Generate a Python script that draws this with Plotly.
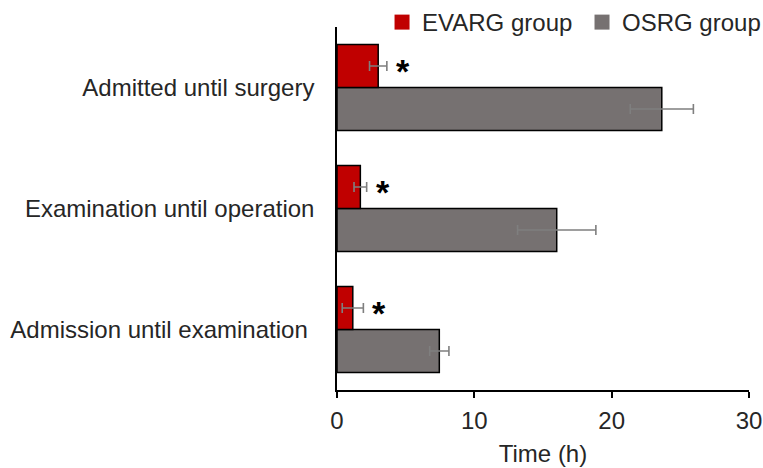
import plotly.graph_objects as go

# Intervals (hours), bottom to top on the chart
stages = ["Admission until examination", "Examination until operation", "Admitted until surgery"]
stage_labels = ["Admission until examination\u00a0", "Examination until operation", "Admitted until surgery"]
evarg_mean = [1.15, 1.70, 3.0]
evarg_err = [0.77, 0.46, 0.63]
osrg_mean = [7.45, 16.0, 23.65]
osrg_err = [0.70, 2.85, 2.30]
significance = ["*", "*", "*"]
x_ticks = [0, 10, 20, 30]

RED = "#C00000"
GREY = "#767171"
FONT = "Liberation Sans, Arial, sans-serif"
TEXT = "#262626"
FS = 24

fig = go.Figure()

# OSRG first so it sits below EVARG within each group
fig.add_trace(go.Bar(
    y=stages, x=osrg_mean, orientation="h", name="OSRG group",
    marker=dict(color=GREY, line=dict(color="black", width=1.5)),
    error_x=dict(type="data", array=osrg_err, color="#7f7f7f", thickness=1.6, width=5),
    showlegend=False,
))
fig.add_trace(go.Bar(
    y=stages, x=evarg_mean, orientation="h", name="EVARG group",
    marker=dict(color=RED, line=dict(color="black", width=1.5)),
    error_x=dict(type="data", array=evarg_err, color="#7f7f7f", thickness=1.6, width=5),
    showlegend=False,
))

# Legend entries as plain squares, one legend per group
for name, col, leg in [("EVARG group", RED, "legend"), ("OSRG group", GREY, "legend2")]:
    fig.add_trace(go.Scatter(
        x=[None], y=[None], mode="markers", name=name, legend=leg,
        marker=dict(symbol="square", size=15, color=col),
    ))

# Significance marks beside the EVARG bars
for stage, m, e, s in zip(stages, evarg_mean, evarg_err, significance):
    fig.add_annotation(
        x=m + e, y=stage, text=f"<b>{s}</b>", showarrow=False,
        xanchor="center", yanchor="middle", xshift=16, yshift=17,
        font=dict(family=FONT, size=34, color="black"),
    )

legend_style = dict(
    orientation="h", xref="container", yref="container",
    y=1.0, xanchor="left", yanchor="top",
    font=dict(family=FONT, size=FS, color=TEXT),
    itemwidth=30, bgcolor="rgba(0,0,0,0)",
)

fig.update_layout(
    width=763, height=468,
    margin=dict(l=337, r=14, t=27, b=78, autoexpand=False),
    paper_bgcolor="white", plot_bgcolor="white",
    barmode="group", bargap=0.29, bargroupgap=0,
    font=dict(family=FONT, size=FS, color=TEXT),
    legend=dict(x=0.5007, **legend_style),
    legend2=dict(x=0.7628, **legend_style),
    xaxis=dict(
        range=[0, 30], tickvals=x_ticks, ticks="outside", ticklen=6,
        tickcolor="black", tickwidth=1.5, showline=True, linecolor="black",
        linewidth=1.5, showgrid=False, zeroline=False, ticklabelstandoff=2,
        tickfont=dict(family=FONT, size=FS, color=TEXT),
        title=dict(text="Time (h)", font=dict(family=FONT, size=FS, color=TEXT), standoff=13),
    ),
    yaxis=dict(
        categoryorder="array", categoryarray=stages,
        tickvals=stages, ticktext=stage_labels,
        showline=True, linecolor="black", linewidth=1.5, ticks="",
        showgrid=False, zeroline=False, ticklabelstandoff=16,
        tickfont=dict(family=FONT, size=FS, color=TEXT),
    ),
)

fig.write_html("out.html")
